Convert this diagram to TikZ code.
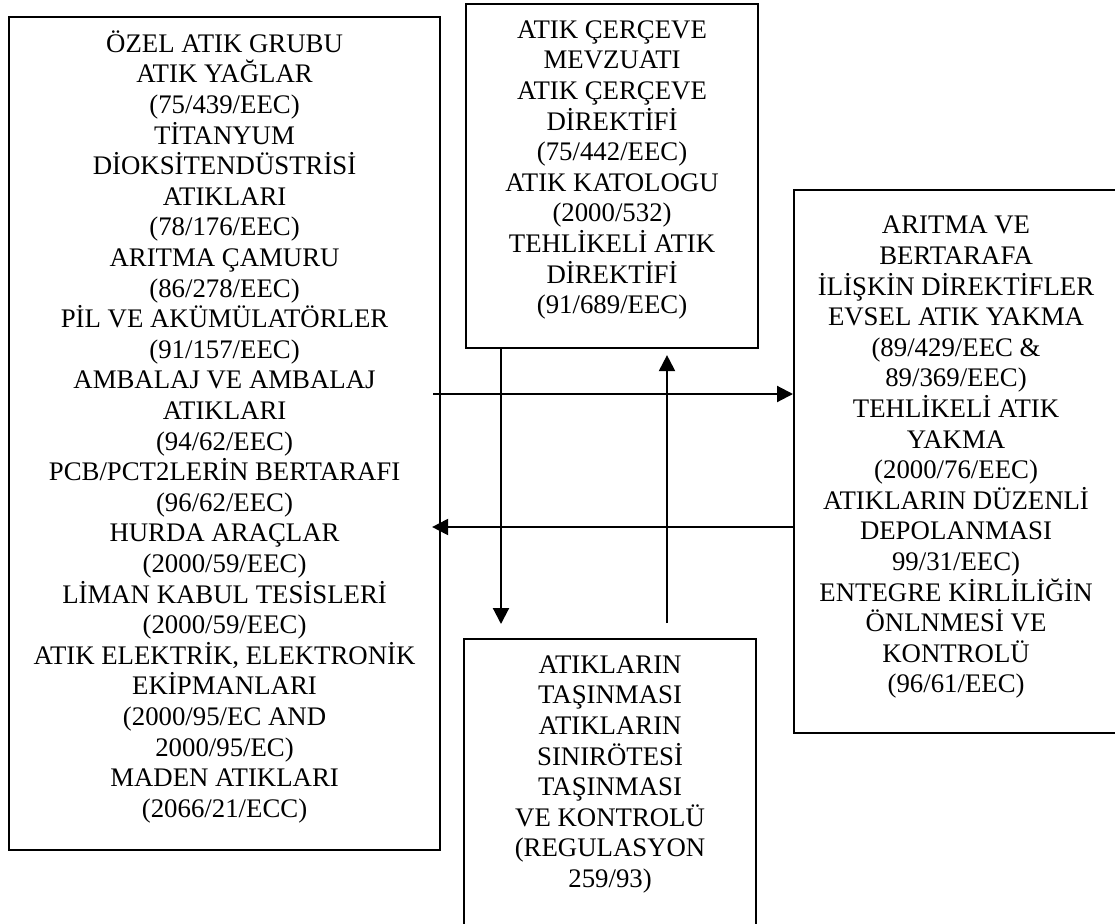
\documentclass[tikz,border=0pt]{standalone}
\usepackage{fontspec}
\setmainfont{Liberation Serif}
\usetikzlibrary{arrows.meta}
\begin{document}
\begin{tikzpicture}[x=1pt,y=-1pt,
  box/.style={draw=black, line width=2.1pt, anchor=north west, inner sep=0pt},
  blocktext/.style={align=center, anchor=north, inner sep=0pt,
    font=\fontsize{26.8}{30.6}\selectfont},
  arr/.style={line width=2.1pt, -{Triangle[length=16pt,width=16pt]}}]
\useasboundingbox (0,0) rectangle (1115,923);
\clip (0,0) rectangle (1115,923);
\fill[white] (0,0) rectangle (1115,923);

% frames
\node[box, minimum width=431pt, minimum height=833.3pt] (ozel) at (8,15.7) {};
\node[box, minimum width=292pt, minimum height=344pt] (cerceve) at (465,3) {};
\node[box, minimum width=324pt, minimum height=543pt] (aritma) at (793,189) {};
\node[box, minimum width=292pt, minimum height=300pt] (tasima) at (463,638) {};

% texts
\newcommand{\firstline}{\rule{0pt}{25pt}}
\node[blocktext] (ozeltxt) at ([yshift=-11.3pt]ozel.north) {\firstline ÖZEL ATIK GRUBU\\ATIK YAĞLAR\\(75/439/EEC)\\TİTANYUM\\DİOKSİTENDÜSTRİSİ\\ATIKLARI\\(78/176/EEC)\\ARITMA ÇAMURU\\(86/278/EEC)\\PİL VE AKÜMÜLATÖRLER\\(91/157/EEC)\\AMBALAJ VE AMBALAJ\\ATIKLARI\\(94/62/EEC)\\PCB/PCT2LERİN BERTARAFI\\(96/62/EEC)\\HURDA ARAÇLAR\\(2000/59/EEC)\\LİMAN KABUL TESİSLERİ\\(2000/59/EEC)\\ATIK ELEKTRİK, ELEKTRONİK\\EKİPMANLARI\\(2000/95/EC AND\\2000/95/EC)\\MADEN ATIKLARI\\(2066/21/ECC)};
\node[blocktext] (cercevetxt) at ([yshift=-10pt]cerceve.north) {\firstline ATIK ÇERÇEVE\\MEVZUATI\\ATIK ÇERÇEVE\\DİREKTİFİ\\(75/442/EEC)\\ATIK KATOLOGU\\(2000/532)\\TEHLİKELİ ATIK\\DİREKTİFİ\\(91/689/EEC)};
\node[blocktext] (aritmatxt) at ([yshift=-19.6pt]aritma.north) {\firstline ARITMA VE\\BERTARAFA\\İLİŞKİN DİREKTİFLER\\EVSEL ATIK YAKMA\\(89/429/EEC \&\\89/369/EEC)\\TEHLİKELİ ATIK\\YAKMA\\(2000/76/EEC)\\ATIKLARIN DÜZENLİ\\DEPOLANMASI\\99/31/EEC)\\ENTEGRE KİRLİLİĞİN\\ÖNLNMESİ VE\\KONTROLÜ\\(96/61/EEC)};
\node[blocktext] (tasimatxt) at ([yshift=-10pt]tasima.north) {\firstline ATIKLARIN\\TAŞINMASI\\ATIKLARIN\\SINIRÖTESİ\\TAŞINMASI\\VE KONTROLÜ\\(REGULASYON\\259/93)};

% connectors
\coordinate (rA) at (433,394);
\coordinate (lA) at (0,527);
\coordinate (dA) at (501,0);
\coordinate (uA) at (667,0);
\draw[arr] (rA) -- (rA -| aritma.west);
\draw[arr, shorten >=-9pt] (lA -| aritma.west) -- (lA -| ozel.east);
\draw[arr, shorten >=14pt] (dA |- cerceve.south) -- (dA |- tasima.north);
\draw[arr, shorten <=15pt, shorten >=6pt] (uA |- tasima.north) -- (uA |- cerceve.south);
\end{tikzpicture}
\end{document}
